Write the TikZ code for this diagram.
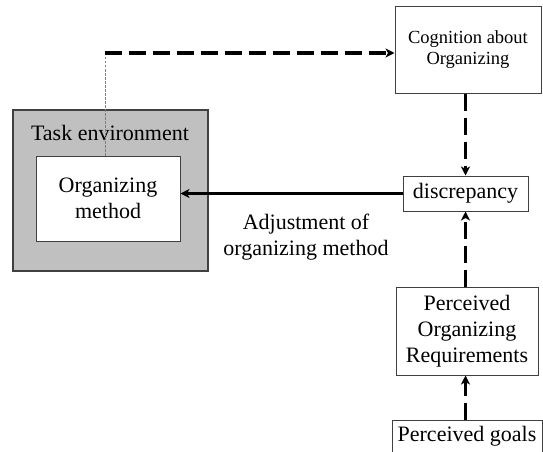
\documentclass[tikz,border=0pt]{standalone}
\usepackage{fontspec}
\setmainfont{Liberation Serif}
\usetikzlibrary{arrows.meta,calc}
\definecolor{envgray}{HTML}{C0C0C0}
\definecolor{edgegray}{HTML}{404040}
\tikzset{
  plainbox/.style={draw=edgegray, line width=1pt, fill=white, inner sep=0pt, align=center,
    font=\fontsize{22}{26}\selectfont},
  envbox/.style={draw=edgegray, line width=1.3pt, fill=envgray, inner sep=0pt},
  bigtext/.style={inner sep=0pt, align=center, font=\fontsize{22}{26}\selectfont},
  tip/.style={-{Stealth[length=9pt,width=9pt,inset=2.5pt]}},
  dasharrow/.style={tip, line width=3.3pt, dash pattern=on 17pt off 7pt},
  solidarrow/.style={tip, line width=3pt},
  thinline/.style={draw=gray, line width=0.9pt, dash pattern=on 2.5pt off 1.5pt}
}
\begin{document}
\begin{tikzpicture}[x=1pt,y=-1pt]
\useasboundingbox (0,0) rectangle (543,452);
% task environment
\node[envbox, minimum width=195pt, minimum height=161pt] (env) at (110.5,190.5) {};
\node[bigtext] (envlabel) at (110,133) {Task environment};
\node[plainbox, minimum width=144pt, minimum height=85pt] (org) at (108,198.5) {Organizing\\method};
% right column
\node[plainbox, minimum width=146pt, minimum height=86pt, font=\fontsize{18.5}{21}\selectfont] (cog) at (468,50) {Cognition about\\Organizing};
\node[plainbox, minimum width=125pt, minimum height=35pt] (disc) at (465.5,193.5) {discrepancy};
\node[plainbox, minimum width=142pt, minimum height=88pt] (por) at (467,331) {Perceived\\Organizing\\Requirements};
\node[plainbox, minimum width=150pt, minimum height=32pt] (goals) at (467,436) {Perceived goals};
% label
\node[bigtext] (adj) at (306,237) {Adjustment of\\organizing method};
% connectors
\coordinate (corner) at (105,53);
\draw[thinline] (org.north -| corner) -- (corner);
\draw[dasharrow] (corner) -- (cog.west |- corner);
\draw[dasharrow] (cog.south -| disc.north) -- (disc.north);
\draw[solidarrow] (disc.west) -- (disc.west -| org.east);
\draw[dasharrow] (por.north -| disc.south) -- (disc.south);
\draw[dasharrow] (goals.north -| disc.south) -- (por.south -| disc.south);
\end{tikzpicture}
\end{document}
